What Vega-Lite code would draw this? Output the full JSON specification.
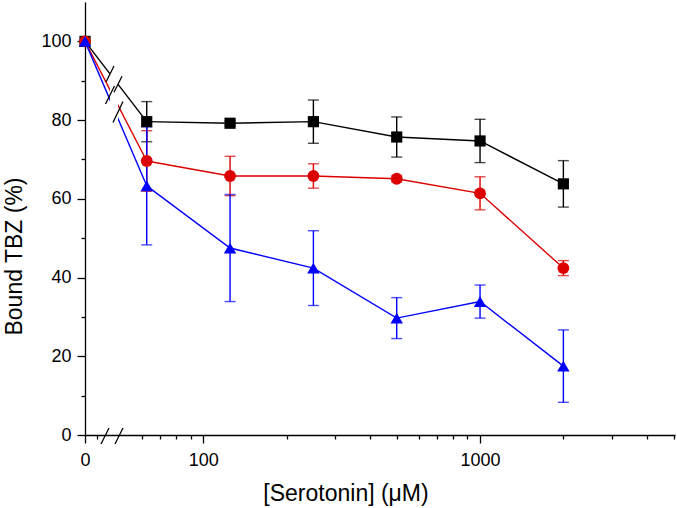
{
  "$schema": "https://vega.github.io/schema/vega-lite/v6.json",
  "width": 590,
  "height": 433,
  "autosize": "none",
  "padding": {"left": 85, "top": 2, "right": 2, "bottom": 73},
  "background": "white",
  "config": {
    "view": {"stroke": null},
    "font": "Liberation Sans",
    "axis": {
      "grid": false,
      "labelFlush": false,
      "domainColor": "black",
      "domainWidth": 1.3,
      "tickColor": "black",
      "tickWidth": 1.3,
      "labelColor": "black",
      "titleColor": "black",
      "labelFont": "Liberation Sans",
      "titleFont": "Liberation Sans",
      "labelFontSize": 18,
      "titleFontSize": 23,
      "titleFontWeight": "normal"
    }
  },
  "data": {
    "values": [
      {"series": "s1", "conc": 0, "bound": 100, "err": 0},
      {"series": "s1", "conc": 62.5, "bound": 79.6, "err": 5.1},
      {"series": "s1", "conc": 125, "bound": 79.2, "err": 0.6},
      {"series": "s1", "conc": 250, "bound": 79.6, "err": 5.5},
      {"series": "s1", "conc": 500, "bound": 75.7, "err": 5.1},
      {"series": "s1", "conc": 1000, "bound": 74.7, "err": 5.5},
      {"series": "s1", "conc": 2000, "bound": 63.8, "err": 5.9},
      {"series": "s2", "conc": 0, "bound": 100, "err": 0},
      {"series": "s2", "conc": 62.5, "bound": 69.6, "err": 7.7},
      {"series": "s2", "conc": 125, "bound": 65.8, "err": 5.0},
      {"series": "s2", "conc": 250, "bound": 65.8, "err": 3.1},
      {"series": "s2", "conc": 500, "bound": 65.1, "err": 0.8},
      {"series": "s2", "conc": 1000, "bound": 61.4, "err": 4.2},
      {"series": "s2", "conc": 2000, "bound": 42.4, "err": 1.9},
      {"series": "s3", "conc": 0, "bound": 100, "err": 0},
      {"series": "s3", "conc": 62.5, "bound": 63.3, "err": 15.0},
      {"series": "s3", "conc": 125, "bound": 47.5, "err": 13.6},
      {"series": "s3", "conc": 250, "bound": 42.4, "err": 9.5},
      {"series": "s3", "conc": 500, "bound": 29.7, "err": 5.2},
      {"series": "s3", "conc": 1000, "bound": 33.9, "err": 4.2},
      {"series": "s3", "conc": 2000, "bound": 17.5, "err": 9.2}
    ]
  },
  "layer": [
    {
      "layer": [
        {
          "transform": [{"filter": "datum.conc <= 62.5"}],
          "mark": {"type": "line", "strokeWidth": 1.4},
          "encoding": {
            "x": {"field": "conc", "type": "quantitative",
              "scale": {"type": "linear", "domain": [0, 597.6], "nice": false, "zero": false},
              "axis": {"orient": "bottom", "values": [0], "format": "d", "tickSize": 8, "labelPadding": 8, "labelFlush": false, "title": null}},
            "y": {"field": "bound", "type": "quantitative",
              "scale": {"domain": [0, 110], "nice": false},
              "axis": {"orient": "left", "values": [0, 20, 40, 60, 80, 100], "tickSize": 8, "labelPadding": 6,
                "title": "Bound TBZ (%)", "titleX": -64, "titleY": 254, "titleAngle": 270, "titleAlign": "center", "titleBaseline": "alphabetic"}},
            "color": {"field": "series", "type": "nominal", "scale": {"domain": ["s1", "s2", "s3"], "range": ["#000000", "#dd0000", "#0000ff"]}, "legend": null}
          }
        },
        {
          "data": {"values": [{}]},
          "mark": {"type": "rect", "color": "white"},
          "encoding": {
            "x": {"datum": 25.32, "type": "quantitative"},
            "x2": {"datum": 33.43},
            "y": {"datum": 78.75, "type": "quantitative"},
            "y2": {"datum": 94.0}
          }
        },
        {
          "data": {"values": [{}]},
          "mark": {"type": "rule", "color": "black", "strokeWidth": 1.3},
          "encoding": {
            "x": {"datum": 21.27, "type": "quantitative"}, "x2": {"datum": 29.37},
            "y": {"datum": 89.68, "type": "quantitative"}, "y2": {"datum": 93.74}
          }
        },
        {
          "data": {"values": [{}]},
          "mark": {"type": "rule", "color": "black", "strokeWidth": 1.3},
          "encoding": {
            "x": {"datum": 29.37, "type": "quantitative"}, "x2": {"datum": 37.48},
            "y": {"datum": 87.06, "type": "quantitative"}, "y2": {"datum": 91.13}
          }
        },
        {
          "data": {"values": [{}]},
          "mark": {"type": "rule", "color": "black", "strokeWidth": 1.3},
          "encoding": {
            "x": {"datum": 20.76, "type": "quantitative"}, "x2": {"datum": 29.88},
            "y": {"datum": 84.09, "type": "quantitative"}, "y2": {"datum": 88.66}
          }
        },
        {
          "data": {"values": [{}]},
          "mark": {"type": "rule", "color": "black", "strokeWidth": 1.3},
          "encoding": {
            "x": {"datum": 28.36, "type": "quantitative"}, "x2": {"datum": 38.49},
            "y": {"datum": 79.39, "type": "quantitative"}, "y2": {"datum": 84.72}
          }
        },
        {
          "transform": [{"filter": "datum.conc == 0"}],
          "mark": {"type": "point", "filled": true, "opacity": 1},
          "encoding": {
            "x": {"field": "conc", "type": "quantitative"},
            "y": {"field": "bound", "type": "quantitative"},
            "color": {"field": "series", "type": "nominal", "legend": null},
            "shape": {"field": "series", "type": "nominal", "scale": {"domain": ["s1", "s2", "s3"], "range": ["square", "circle", "triangle-up"]}, "legend": null},
            "size": {"field": "series", "type": "ordinal", "scale": {"domain": ["s1", "s2", "s3"], "range": [125, 155, 215]}, "legend": null}
          }
        }
      ]
    },
    {
      "data": {"values": [{}]},
      "layer": [
        {
          "mark": {"type": "rule", "color": "black", "strokeWidth": 1.3},
          "encoding": {
            "x": {"datum": 16.21, "type": "quantitative",
              "scale": {"type": "linear", "domain": [0, 597.6], "nice": false, "zero": false},
              "axis": {"orient": "bottom", "values": [12], "labels": false, "tickSize": 4, "domain": false, "title": null}},
            "x2": {"datum": 24.31},
            "y": {"datum": -2.29, "type": "quantitative",
              "scale": {"domain": [0, 110], "nice": false},
              "axis": {"orient": "left", "values": [10, 30, 50, 70, 90], "labels": false, "tickSize": 4, "domain": false, "title": null}},
            "y2": {"datum": 1.78}
          }
        },
        {
          "mark": {"type": "rule", "color": "black", "strokeWidth": 1.3},
          "encoding": {
            "x": {"datum": 30.39, "type": "quantitative"}, "x2": {"datum": 38.49},
            "y": {"datum": -2.29, "type": "quantitative"}, "y2": {"datum": 1.78}
          }
        }
      ]
    },
    {
      "transform": [{"filter": "datum.conc > 0"}],
      "layer": [
        {
          "mark": {"type": "line", "strokeWidth": 1.4},
          "encoding": {
            "x": {"field": "conc", "type": "quantitative",
              "scale": {"type": "log", "domain": [37.4, 5061.6], "nice": false, "zero": false},
              "axis": {"orient": "bottom", "values": [60, 70, 80, 90, 200, 300, 400, 500, 600, 700, 800, 900, 2000, 3000, 4000, 5000], "labels": false, "tickSize": 4, "domain": false, "title": null}},
            "y": {"field": "bound", "type": "quantitative", "scale": {"domain": [0, 110], "nice": false}, "axis": null},
            "color": {"field": "series", "type": "nominal", "legend": null}
          }
        },
        {
          "mark": {"type": "errorbar", "ticks": true, "size": 11, "thickness": 1.4},
          "encoding": {
            "x": {"field": "conc", "type": "quantitative"},
            "y": {"field": "bound", "type": "quantitative"},
            "yError": {"field": "err"},
            "color": {"field": "series", "type": "nominal", "legend": null}
          }
        }
      ]
    },
    {
      "transform": [{"filter": "datum.conc > 0"}],
      "mark": {"type": "point", "filled": true, "opacity": 1},
      "encoding": {
        "x": {"field": "conc", "type": "quantitative",
          "scale": {"type": "log", "domain": [37.4, 5061.6], "nice": false, "zero": false},
          "axis": {"orient": "bottom", "values": [100, 1000], "format": "d", "tickSize": 8, "labelPadding": 8, "domain": false,
            "title": "[Serotonin] (μM)", "titleX": 260.5, "titleY": 65.5, "titleAlign": "center", "titleBaseline": "alphabetic"}},
        "y": {"field": "bound", "type": "quantitative", "scale": {"domain": [0, 110], "nice": false}, "axis": null},
        "color": {"field": "series", "type": "nominal", "legend": null},
        "shape": {"field": "series", "type": "nominal", "legend": null},
        "size": {"field": "series", "type": "ordinal", "legend": null}
      }
    }
  ],
  "resolve": {"scale": {"x": "independent"}, "axis": {"x": "independent", "y": "independent"}}
}
